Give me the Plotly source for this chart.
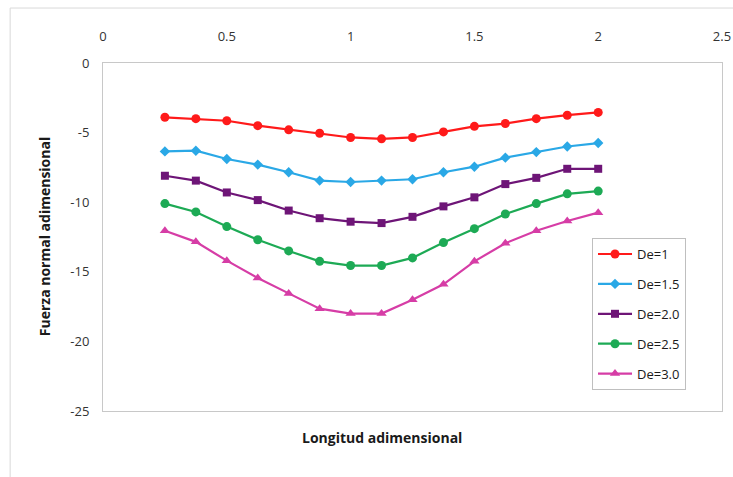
import plotly.graph_objects as go

# Dimensionless length along the surface
longitud = [0.25, 0.375, 0.5, 0.625, 0.75, 0.875, 1.0, 1.125,
            1.25, 1.375, 1.5, 1.625, 1.75, 1.875, 2.0]

# Dimensionless normal force for each Deborah number
fuerza_de_1 = [-3.9, -4.0, -4.15, -4.5, -4.8, -5.05, -5.35, -5.45,
               -5.35, -4.95, -4.55, -4.35, -4.0, -3.75, -3.55]
fuerza_de_15 = [-6.35, -6.3, -6.9, -7.3, -7.85, -8.45, -8.55, -8.45,
                -8.35, -7.85, -7.45, -6.8, -6.4, -6.0, -5.75]
fuerza_de_20 = [-8.1, -8.45, -9.3, -9.85, -10.6, -11.15, -11.4, -11.5,
                -11.05, -10.3, -9.65, -8.7, -8.25, -7.6, -7.6]
fuerza_de_25 = [-10.1, -10.7, -11.75, -12.7, -13.5, -14.25, -14.55, -14.55,
                -14.0, -12.9, -11.9, -10.85, -10.1, -9.4, -9.2]
fuerza_de_30 = [-12.05, -12.85, -14.2, -15.45, -16.55, -17.65, -18.0, -18.0,
                -17.0, -15.9, -14.25, -12.95, -12.05, -11.35, -10.75]

series = [
    ("De=1", fuerza_de_1, "#FF1A1A", "circle", 9),
    ("De=1.5", fuerza_de_15, "#2AA8E6", "diamond", 8),
    ("De=2.0", fuerza_de_20, "#6E1577", "square", 8),
    ("De=2.5", fuerza_de_25, "#1DAA55", "circle", 9),
    ("De=3.0", fuerza_de_30, "#D63DA6", "triangle-up", 9),
]

x_ticks = [0, 0.5, 1, 1.5, 2, 2.5]
x_tick_text = ["0", "0.5", "1", "1.5", "2", "2.5"]
y_ticks = [0, -5, -10, -15, -20, -25]
y_tick_text = ["0", "-5", "-10", "-15", "-20", "-25"]

fig = go.Figure()
for i, (name, vals, color, symbol, size) in enumerate(series):
    fig.add_trace(go.Scatter(
        x=longitud, y=vals, name=name, mode="lines+markers",
        legendgroup=f"g{i}",
        line=dict(color=color, width=2.2),
        marker=dict(symbol=symbol, size=size, color=color,
                    line=dict(width=0)),
    ))

font_family = "Open Sans, Liberation Sans, sans-serif"

fig.update_layout(
    width=733, height=477,
    margin=dict(l=103, r=11, t=63, b=66),
    paper_bgcolor="white", plot_bgcolor="white",
    font=dict(family=font_family, size=13, color="#404040"),
    showlegend=True,
    legend=dict(
        x=0.79, y=0.497, xanchor="left", yanchor="top",
        bordercolor="#BFBFBF", borderwidth=1, bgcolor="white",
        font=dict(family=font_family, size=13, color="#1a1a1a"),
        tracegroupgap=10, itemwidth=34,
    ),
    xaxis=dict(
        range=[0, 2.5], side="top", tickvals=x_ticks, ticktext=x_tick_text,
        showgrid=False, zeroline=False, ticks="", automargin=False,
        showline=True, mirror=True, linecolor="#C8C8C8", linewidth=1,
        ticklabelstandoff=16,
        tickfont=dict(size=13, color="#333333"),
    ),
    yaxis=dict(
        range=[-25, 0], tickvals=y_ticks, ticktext=y_tick_text,
        showgrid=False, zeroline=False, ticks="", automargin=False,
        showline=True, mirror=True, linecolor="#C8C8C8", linewidth=1,
        ticklabelstandoff=10,
        tickfont=dict(size=13, color="#333333"),
    ),
    annotations=[
        dict(text="<b>Fuerza normal adimensional</b>", textangle=-90,
             xref="paper", yref="paper", x=-0.095, y=0.5,
             xanchor="center", yanchor="middle", showarrow=False,
             font=dict(family=font_family, size=14, color="#1a1a1a")),
        dict(text="<b>Longitud adimensional</b>",
             xref="paper", yref="paper", x=0.451, y=-0.077,
             xanchor="center", yanchor="middle", showarrow=False,
             font=dict(family=font_family, size=14, color="#1a1a1a")),
    ],
    shapes=[
        # outer chart-area border (left and top edges)
        dict(type="line", xref="paper", yref="paper",
             x0=-0.150, x1=-0.150, y0=-0.2, y1=1.158,
             line=dict(color="#D9D9D9", width=1)),
        dict(type="line", xref="paper", yref="paper",
             x0=-0.150, x1=1.02, y0=1.158, y1=1.158,
             line=dict(color="#D9D9D9", width=1)),
    ],
)

fig.write_html("out.html")
